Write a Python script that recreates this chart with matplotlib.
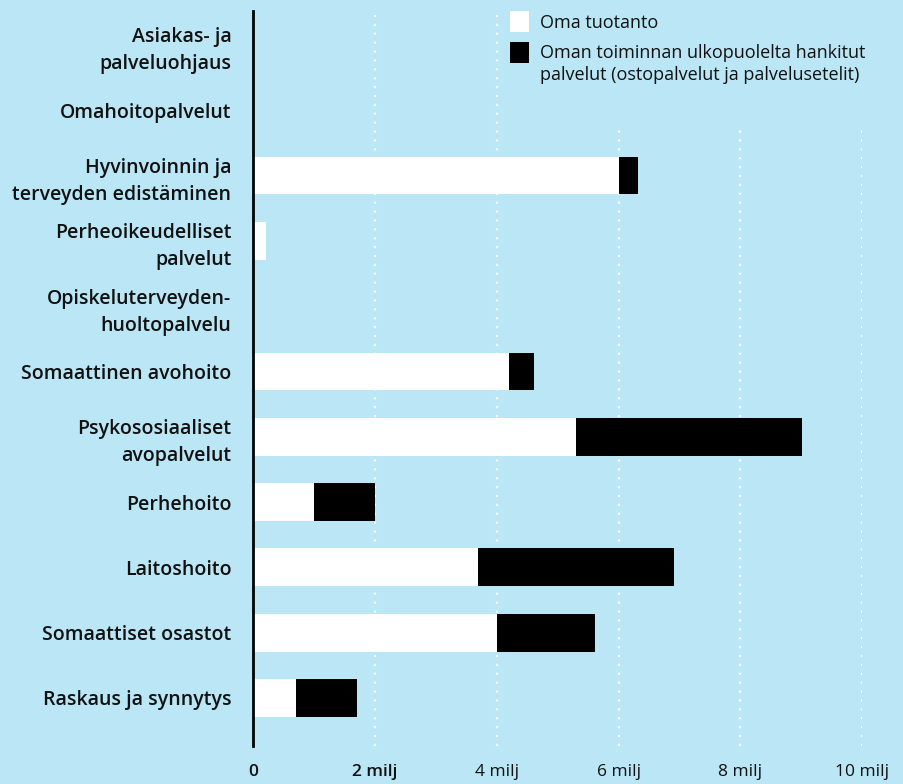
import matplotlib
matplotlib.use("Agg")
import matplotlib.pyplot as plt
from matplotlib.patches import Rectangle
import numpy as np

categories = [
    "Asiakas- ja\npalveluohjaus",
    "Omahoitopalvelut",
    "Hyvinvoinnin ja\nterveyden edistäminen",
    "Perheoikeudelliset\npalvelut",
    "Opiskeluterveyden-\nhuoltopalvelu",
    "Somaattinen avohoito",
    "Psykososiaaliset\navopalvelut",
    "Perhehoito",
    "Laitoshoito",
    "Somaattiset osastot",
    "Raskaus ja synnytys",
]
# millions of euros
oma_tuotanto = [0.0, 0.0, 6.01, 0.20, 0.0, 4.20, 5.30, 0.99, 3.69, 4.00, 0.70]
ostopalvelut = [0.0, 0.0, 0.31, 0.0, 0.0, 0.41, 3.71, 1.01, 3.22, 1.61, 1.00]
xticks = [0, 2, 4, 6, 8, 10]
xtick_labels = ["0", "2 milj", "4 milj", "6 milj", "8 milj", "10 milj"]
legend_labels = ["Oma tuotanto",
                 "Oman toiminnan ulkopuolelta hankitut\npalvelut (ostopalvelut ja palvelusetelit)"]
series_colors = ["white", "black"]

BG = "#bae6f5"
INK = "#111111"
FONT = ["Open Sans", "DejaVu Sans"]
plt.rcParams["font.family"] = FONT

W, H = 904, 784
fig = plt.figure(figsize=(W / 100, H / 100), dpi=100, facecolor=BG)
ax = fig.add_axes([0.2804, 0.0485, 0.9535 - 0.2804, 0.986 - 0.0485])
ax.set_facecolor(BG)

y = np.arange(len(categories))
h = 0.58
ax.barh(y, oma_tuotanto, height=h, color=series_colors[0], zorder=3)
ax.barh(y, ostopalvelut, left=oma_tuotanto, height=h, color=series_colors[1], zorder=3)

ax.set_xlim(0, 10)
ax.set_ylim(10.735, -0.52)
ax.set_xticks(xticks)
ax.set_xticklabels(xtick_labels, fontsize=12.5, color=INK)
for i, t in enumerate(ax.get_xticklabels()):
    t.set_fontweight("semibold" if i < 2 else "normal")
ax.set_yticks(y)
ax.set_yticklabels(categories, fontsize=14, fontweight="semibold", color=INK,
                   linespacing=1.47)
ax.tick_params(axis="both", length=0)
ax.tick_params(axis="x", pad=13)
ax.tick_params(axis="y", pad=16)

for s in ["top", "right", "bottom"]:
    ax.spines[s].set_visible(False)
ax.spines["left"].set_linewidth(2)
ax.spines["left"].set_color("black")
ax.spines["left"].set_zorder(4)

ax.xaxis.grid(True, color="white", linestyle=(0, (1, 3)), linewidth=1.6, zorder=1)
ax.yaxis.grid(False)
ax.set_axisbelow(True)

# legend (drawn manually in figure pixels, with a background box hiding grid lines)
def fx(px):
    return px / W

def fy(py):
    return 1 - py / H

fig.add_artist(Rectangle((fx(503), fy(124)), fx(W - 503), 124 / H,
                         transform=fig.transFigure, facecolor=BG, edgecolor="none",
                         zorder=5))
sq_tops = [11, 42]
for top, col in zip(sq_tops, series_colors):
    fig.add_artist(Rectangle((fx(510), fy(top + 21)), 19 / W, 21 / H,
                             transform=fig.transFigure, facecolor=col,
                             edgecolor="none", zorder=6))
fig.text(fx(540), fy(23), legend_labels[0], fontsize=13, color=INK,
         va="center", ha="left", zorder=7)
for k, line in enumerate(legend_labels[1].split("\n")):
    fig.text(fx(540), fy(53 + 22 * k), line, fontsize=13, color=INK,
             va="center", ha="left", zorder=7)

fig.savefig("out.png", dpi=100, facecolor=BG)
